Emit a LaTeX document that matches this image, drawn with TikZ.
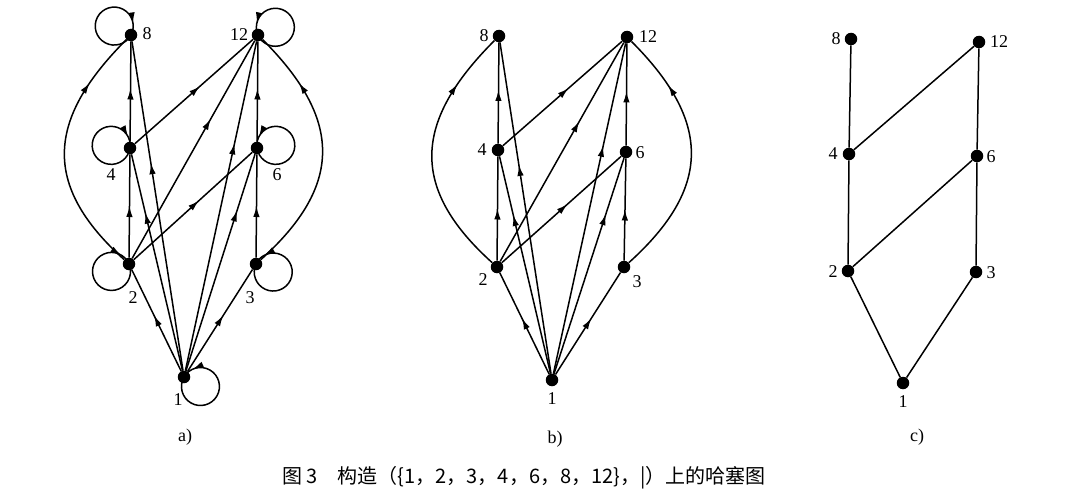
\documentclass[tikz,border=0pt]{standalone}
\usepackage{fontspec}
\setmainfont{Liberation Serif}
\newfontfamily\cjk{Noto Sans CJK SC}
\usetikzlibrary{arrows.meta,decorations.markings}
\tikzset{
  dot/.style={circle,fill=black,inner sep=0pt,minimum size=12.5pt},
  lab/.style={inner sep=0pt,font=\fontsize{18}{18}\selectfont},
  edge/.style={line width=1.5pt},
  marr/.style={postaction={decorate,decoration={markings,mark=at position #1 with {\arrow{Latex[length=11pt,width=6.5pt]}}}}},
  marr/.default=0.55
}
\begin{document}
\begin{tikzpicture}[x=1pt,y=1pt]
\useasboundingbox (0,0) rectangle (1082,-503);
% ---------- a) ----------
\node[dot] (a8) at (131,-35) {};
\node[dot] (a12) at (258,-35) {};
\node[dot] (a4) at (130,-148) {};
\node[dot] (a6) at (257,-148) {};
\node[dot] (a2) at (129,-264) {};
\node[dot] (a3) at (256,-264) {};
\node[dot] (a1) at (184,-377) {};
\node[lab] (la8) at (147,-34) {8};
\node[lab] (la12) at (239,-35) {12};
\node[lab] (la4) at (111,-175) {4};
\node[lab] (la6) at (277,-175) {6};
\node[lab] (la2) at (133,-298) {2};
\node[lab] (la3) at (250,-298) {3};
\node[lab] (la1) at (178,-400) {1};
\node[lab] (capa) at (185,-437) {a)};
\draw[edge,marr=0.55] (a1) -- (a2);
\draw[edge,marr=0.55] (a1) -- (a3);
\draw[edge,marr=0.73] (a1) -- (a4);
\draw[edge,marr=0.63] (a1) -- (a8);
\draw[edge,marr=0.74] (a1) -- (a6);
\draw[edge,marr=0.69] (a1) -- (a12);
\draw[edge,marr=0.5] (a2) -- (a4);
\draw[edge,marr=0.55] (a2) -- (a6);
\draw[edge,marr=0.64] (a2) -- (a12);
\draw[edge,marr=0.5] (a3) -- (a6);
\draw[edge,marr=0.53] (a4) -- (a8);
\draw[edge,marr=0.55] (a4) -- (a12);
\draw[edge,marr=0.53] (a6) -- (a12);
\draw[edge,marr=0.78] (a2) to[out=138,in=-135,looseness=1.3] (a8);
\draw[edge,marr=0.78] (a3) to[out=42,in=-45,looseness=1.3] (a12);
% loops
\draw[edge,marr=0.9] (a8.center) arc[start angle=-28,end angle=-388,radius=19pt];
\draw[edge,marr=0.9] (a12.center) arc[start angle=204,end angle=564,radius=19pt];
\draw[edge,marr=0.9] (a4.center) arc[start angle=-8,end angle=-368,radius=19pt];
\draw[edge,marr=0.9] (a6.center) arc[start angle=188,end angle=548,radius=19pt];
\draw[edge,marr=0.9] (a2.center) arc[start angle=23,end angle=-337,radius=19pt];
\draw[edge,marr=0.9] (a3.center) arc[start angle=155,end angle=515,radius=19pt];
\draw[edge,marr=0.9] (a1.center) arc[start angle=150,end angle=510,radius=19pt];
% ---------- b) ----------
\node[dot] (b8) at (499,-36) {};
\node[dot] (b12) at (627,-37) {};
\node[dot] (b4) at (498,-150) {};
\node[dot] (b6) at (626,-152) {};
\node[dot] (b2) at (497,-267) {};
\node[dot] (b3) at (624,-267) {};
\node[dot] (b1) at (552,-380) {};
\node[lab] (lb8) at (484,-36) {8};
\node[lab] (lb12) at (648,-37) {12};
\node[lab] (lb4) at (482,-150) {4};
\node[lab] (lb6) at (640,-153) {6};
\node[lab] (lb2) at (483,-280) {2};
\node[lab] (lb3) at (637,-282) {3};
\node[lab] (lb1) at (552,-399) {1};
\node[lab] (capb) at (555,-439) {b)};
\draw[edge,marr=0.55] (b1) -- (b2);
\draw[edge,marr=0.55] (b1) -- (b3);
\draw[edge,marr=0.73] (b1) -- (b4);
\draw[edge,marr=0.63] (b1) -- (b8);
\draw[edge,marr=0.74] (b1) -- (b6);
\draw[edge,marr=0.69] (b1) -- (b12);
\draw[edge,marr=0.5] (b2) -- (b4);
\draw[edge,marr=0.55] (b2) -- (b6);
\draw[edge,marr=0.64] (b2) -- (b12);
\draw[edge,marr=0.5] (b3) -- (b6);
\draw[edge,marr=0.53] (b4) -- (b8);
\draw[edge,marr=0.55] (b4) -- (b12);
\draw[edge,marr=0.53] (b6) -- (b12);
\draw[edge,marr=0.78] (b2) to[out=138,in=-135,looseness=1.3] (b8);
\draw[edge,marr=0.78] (b3) to[out=42,in=-45,looseness=1.3] (b12);
% ---------- c) ----------
\node[dot] (c8) at (851,-39) {};
\node[dot] (c12) at (979,-42) {};
\node[dot] (c4) at (849,-154) {};
\node[dot] (c6) at (977,-156) {};
\node[dot] (c2) at (848,-271) {};
\node[dot] (c3) at (976,-272) {};
\node[dot] (c1) at (903,-383) {};
\node[lab] (lc8) at (836,-39) {8};
\node[lab] (lc12) at (999,-42) {12};
\node[lab] (lc4) at (833,-154) {4};
\node[lab] (lc6) at (991,-157) {6};
\node[lab] (lc2) at (833,-272) {2};
\node[lab] (lc3) at (991,-273) {3};
\node[lab] (lc1) at (903,-402) {1};
\node[lab] (capc) at (917,-437) {c)};
\draw[edge] (c8) -- (c4);
\draw[edge] (c4) -- (c12);
\draw[edge] (c12) -- (c6);
\draw[edge] (c4) -- (c2);
\draw[edge] (c2) -- (c6);
\draw[edge] (c6) -- (c3);
\draw[edge] (c2) -- (c1);
\draw[edge] (c1) -- (c3);
% caption
\node[inner sep=0pt,font=\fontsize{20}{20}\selectfont] (cap) at (524,-478) {\cjk 图 3\quad 构造（\{1，2，3，4，6，8，12\}，|）上的哈塞图};
\end{tikzpicture}
\end{document}
